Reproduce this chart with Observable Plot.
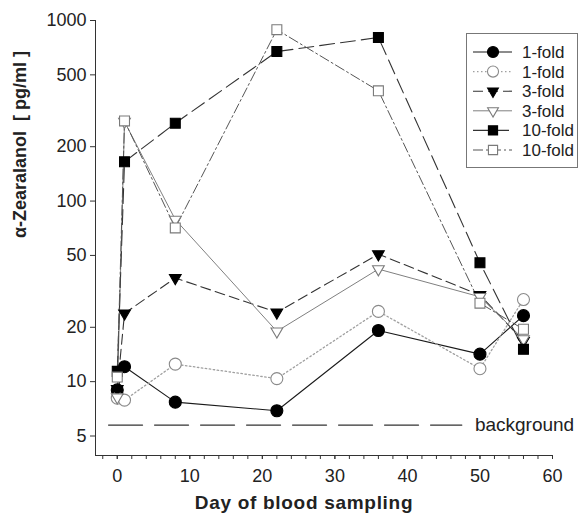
<!DOCTYPE html>
<html>
<head>
<meta charset="utf-8">
<script src="https://cdn.jsdelivr.net/npm/d3@7"></script>
<script src="https://cdn.jsdelivr.net/npm/@observablehq/plot@0.6"></script>
<style>
  html, body { margin: 0; padding: 0; background: #fff; }
  #wrap { position: relative; width: 581px; height: 513px; overflow: hidden; }
  #legend { position: absolute; left: 0; top: 0; }
</style>
</head>
<body>
<div id="wrap"></div>
<script>
// ---- data ----
const days = [0, 1, 8, 22, 36, 50, 56];
const fold1Filled  = [9.0, 12.1, 7.7, 6.9, 19.2, 14.2, 23.2];
const fold1Open    = [8.1, 7.9, 12.5, 10.4, 24.5, 11.8, 28.5];
const fold3Filled  = [9.1, 23.9, 37.5, 24.2, 50.8, 30.2, 16.8];
const fold3Open    = [8.2, 275, 79, 19.0, 42, 29.5, 17.2];
const fold10Filled = [11.4, 165, 270, 673, 805, 45.5, 15.1];
const fold10Open   = [10.6, 278, 71, 890, 408, 27.2, 19.5];
const seriesLabels = ["1-fold", "1-fold", "3-fold", "3-fold", "10-fold", "10-fold"];
const backgroundLevel = 5.75;
const backgroundDays = [-1.2, 47.5];
const backgroundLabelDay = 49.3;
const backgroundLabel = "background";
const yTicks = [5, 10, 20, 50, 100, 200, 500, 1000];
const xTicks = [0, 10, 20, 30, 40, 50, 60];
const xMinorTicks = d3.range(-2, 61, 2);
const xTitle = "Day of blood sampling";
const yTitle = "α-Zearalanol  [ pg/ml ]";

// ---- styles per series ----
const styles = [
  {symbol: "circle",    r: 6,   fill: "#000", stroke: "#000", rotate: 0,   line: "#1a1a1a", dash: null,        lw: 1.1},
  {symbol: "circle",    r: 6,   fill: "#fff", stroke: "#8a8a8a", rotate: 0, line: "#a0a0a0", dash: "1.5,2.5", lw: 1.3},
  {symbol: "triangle2", r: 5.6, fill: "#000", stroke: "#000", rotate: 180, line: "#333",    dash: "10,5",      lw: 1.1},
  {symbol: "triangle2", r: 5.6, fill: "#fff", stroke: "#7a7a7a", rotate: 180, line: "#808080", dash: null,    lw: 1.0},
  {symbol: "square",    r: 5.6, fill: "#000", stroke: "#000", rotate: 0,   line: "#333",    dash: "15,6",      lw: 1.1},
  {symbol: "square",    r: 5.6, fill: "#fff", stroke: "#7a7a7a", rotate: 0, line: "#555",   dash: "10,3,2,3",  lw: 1.0}
];
const seriesValues = [fold1Filled, fold1Open, fold3Filled, fold3Open, fold10Filled, fold10Open];
const tables = seriesValues.map((vals, i) => days.map((d, j) => ({day: d, value: vals[j], s: i})));
const bgTable = backgroundDays.map(d => ({day: d, value: backgroundLevel}));

const W = 581, H = 513, ML = 95, MR = 29, MT = 20, MB = 58;
const frameW = W - ML - MR;
const yMin = 3.9;
const xMin = -3;

const marks = [
  Plot.ruleX([xMin], {stroke: "#333", strokeWidth: 1}),
  Plot.ruleY([yMin], {stroke: "#333", strokeWidth: 1}),
  // y ticks + labels
  Plot.tickY(yTicks, {y: d => d, dx: -5, insetRight: frameW - 5, stroke: "#333", strokeWidth: 1}),
  Plot.text(yTicks, {y: d => d, frameAnchor: "left", dx: -9, textAnchor: "end", text: d => String(d), fontSize: 18, fill: "#222"}),
  Plot.axisX(xTicks, {tickSize: 4, tickPadding: 10, tickFormat: d => String(d), label: null, fontSize: 18, stroke: "#333"}),
  Plot.axisX(xMinorTicks, {tickSize: 4, tickFormat: () => "", label: null, stroke: "#333"}),
  Plot.line(bgTable, {x: "day", y: "value", stroke: "#333", strokeWidth: 1.2, strokeDasharray: "34,12"}),
  Plot.text([backgroundLabel], {x: backgroundLabelDay, y: backgroundLevel, text: d => d, textAnchor: "start", fontSize: 19, fill: "#222"}),
];
tables.forEach((t, i) => {
  const st = styles[i];
  marks.push(Plot.line(t, {x: "day", y: "value", stroke: st.line, strokeWidth: st.lw, strokeDasharray: st.dash || undefined}));
});
tables.forEach((t, i) => {
  const st = styles[i];
  marks.push(Plot.dot(t, {x: "day", y: "value", symbol: st.symbol, r: st.r, fill: st.fill, stroke: st.stroke, strokeWidth: 1.1, rotate: st.rotate}));
});
marks.push(Plot.text([yTitle], {frameAnchor: "left", dx: -75, rotate: -90, text: d => d, fontSize: 18, fontWeight: "bold", fill: "#222"}));
marks.push(Plot.text([xTitle], {frameAnchor: "bottom", dx: -20, dy: 53, text: d => d, fontSize: 19, fontWeight: "bold", fill: "#222", letterSpacing: "0.7px"}));

const chart = Plot.plot({
  width: W, height: H,
  marginLeft: ML, marginRight: MR, marginTop: MT, marginBottom: MB,
  style: {fontFamily: "'Liberation Sans', Arial, sans-serif", fontSize: "18px", background: "#fff", color: "#222", overflow: "visible"},
  x: {domain: [xMin, 60]},
  y: {type: "log", domain: [yMin, 1000], axis: null},
  marks
});
chart.querySelectorAll("text").forEach(t => { if (t.textContent === xTitle) t.setAttribute("letter-spacing", "0.7"); });
document.getElementById("wrap").appendChild(chart);

// ---- legend ----
const lg = d3.select("#wrap").append("svg").attr("id", "legend").attr("width", W).attr("height", H)
  .style("font-family", "'Liberation Sans', Arial, sans-serif");
const box = {x: 466.5, y: 33.5, w: 111, h: 134};
lg.append("rect").attr("x", box.x).attr("y", box.y).attr("width", box.w).attr("height", box.h)
  .attr("fill", "#fff").attr("stroke", "#777").attr("stroke-width", 1);
const symMap = {circle: d3.symbolCircle, triangle2: d3.symbolTriangle2, square: d3.symbolSquare};
seriesLabels.forEach((lab, i) => {
  const st = styles[i];
  const cy = 52 + i * 19.6;
  lg.append("line").attr("x1", 473).attr("x2", 512).attr("y1", cy).attr("y2", cy)
    .attr("stroke", st.line).attr("stroke-width", st.lw).attr("stroke-dasharray", st.dash || null);
  lg.append("path").attr("d", d3.symbol(symMap[st.symbol], Math.PI * st.r * st.r * 0.85)())
    .attr("transform", `translate(493,${cy}) rotate(${st.rotate})`)
    .attr("fill", st.fill).attr("stroke", st.stroke).attr("stroke-width", 1.1);
  lg.append("text").attr("x", 522).attr("y", cy).attr("dy", "0.35em").attr("font-size", 17).attr("fill", "#222").text(lab);
});
</script>
</body>
</html>
